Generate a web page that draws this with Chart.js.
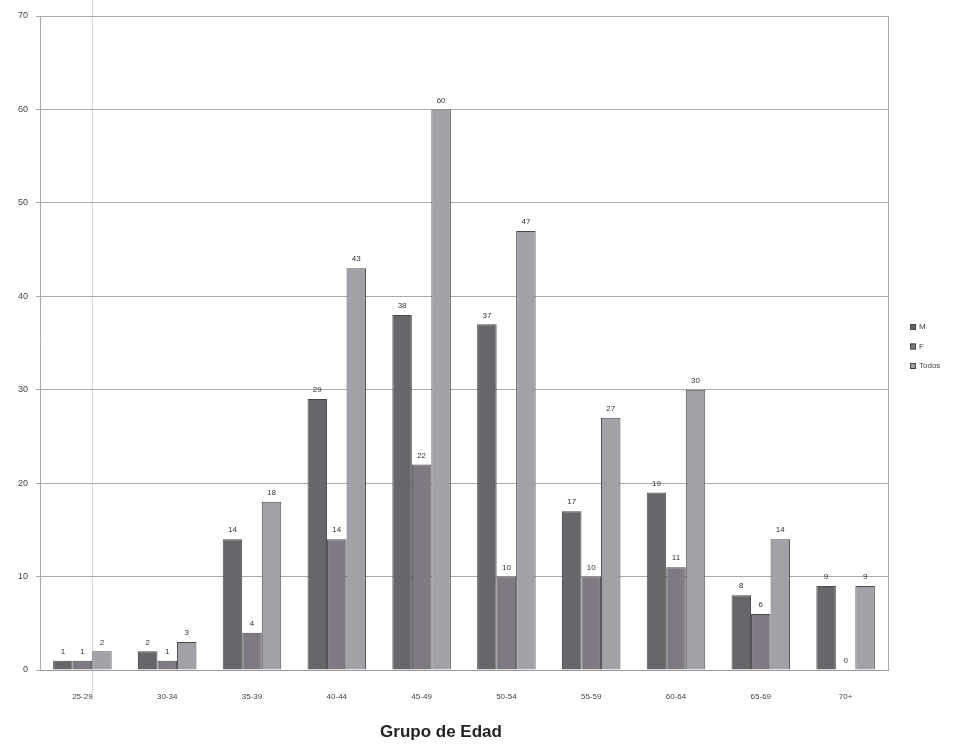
<!DOCTYPE html>
<html>
<head>
<meta charset="utf-8">
<script src="https://cdn.jsdelivr.net/npm/chart.js@4.4.1/dist/chart.umd.min.js"></script>
<style>
  body { margin: 0; background: #fff; }
  #wrap { width: 959px; height: 744px; position: relative; }
</style>
</head>
<body>
<div id="wrap"><canvas id="edadChart" width="959" height="744"></canvas></div>
<script>
// Data
const grupos = ['25-29', '30-34', '35-39', '40-44', '45-49', '50-54', '55-59', '60-64', '65-69', '70+'];
const valoresM = [1, 2, 14, 29, 38, 37, 17, 19, 8, 9];
const valoresF = [1, 1, 4, 14, 22, 10, 10, 11, 6, 0];
const valoresTodos = [2, 3, 18, 43, 60, 47, 27, 30, 14, 9];
const nombresSeries = ['M', 'F', 'Todos'];
const ticksY = [0, 10, 20, 30, 40, 50, 60, 70];
const tituloX = 'Grupo de Edad';

const colores = ['#67666a', '#7f7983', '#a3a0a8'];
const fuente = '"Liberation Sans", Arial, sans-serif';

// labels above each bar
const etiquetasPlugin = {
  id: 'etiquetas',
  afterDatasetsDraw(chart) {
    const ctx = chart.ctx;
    ctx.save();
    ctx.font = '8px ' + fuente;
    ctx.fillStyle = '#333';
    ctx.textAlign = 'center';
    ctx.textBaseline = 'bottom';
    chart.data.datasets.forEach((ds, i) => {
      chart.getDatasetMeta(i).data.forEach((bar, j) => {
        ctx.fillText(String(ds.data[j]), bar.x, bar.y - 5);
      });
    });
    ctx.restore();
  }
};

// plot border, scan line, axis title and legend at the right
const marcoPlugin = {
  id: 'marco',
  afterDraw(chart) {
    const ctx = chart.ctx;
    const a = chart.chartArea;
    ctx.save();
    ctx.strokeStyle = '#aaa';
    ctx.lineWidth = 1;
    ctx.beginPath();
    ctx.moveTo(Math.round(a.right) + 0.5, a.top);
    ctx.lineTo(Math.round(a.right) + 0.5, a.bottom);
    ctx.stroke();

    ctx.strokeStyle = 'rgba(180,180,180,0.5)';
    ctx.beginPath();
    ctx.moveTo(92.5, 0);
    ctx.lineTo(92.5, 700);
    ctx.stroke();

    ctx.font = 'bold 17px ' + fuente;
    ctx.fillStyle = '#222';
    ctx.textAlign = 'center';
    ctx.textBaseline = 'middle';
    ctx.fillText(tituloX, 441, 732);

    ctx.font = '8px ' + fuente;
    ctx.textAlign = 'left';
    nombresSeries.forEach((n, i) => {
      const y = 327 + i * 19.5;
      ctx.fillStyle = colores[i];
      ctx.fillRect(910, y - 3, 6, 6);
      ctx.strokeStyle = '#444';
      ctx.strokeRect(910.5, y - 2.5, 5, 5);
      ctx.fillStyle = '#444';
      ctx.fillText(n, 919, y);
    });
    ctx.restore();
  }
};

const ctx = document.getElementById('edadChart').getContext('2d');
const edadChart = new Chart(ctx, {
  type: 'bar',
  data: {
    labels: grupos,
    datasets: [valoresM, valoresF, valoresTodos].map((d, i) => ({
      label: nombresSeries[i],
      data: d,
      backgroundColor: colores[i],
      borderColor: '#4a4a4a',
      borderWidth: 1,
      categoryPercentage: 0.69,
      barPercentage: 1
    }))
  },
  options: {
    responsive: false,
    animation: false,
    layout: { padding: { left: 0, right: 71, top: 16, bottom: 0 } },
    plugins: {
      legend: { display: false },
      tooltip: { enabled: false }
    },
    scales: {
      x: {
        grid: { display: false },
        border: { display: true, color: '#999' },
        ticks: {
          color: '#444',
          font: { size: 8, family: fuente },
          padding: 14,
          maxRotation: 0
        },
        afterFit(scale) { scale.height = 74; }
      },
      y: {
        min: 0,
        max: 70,
        afterBuildTicks(scale) { scale.ticks = ticksY.map(v => ({ value: v })); },
        grid: { color: '#aaa', tickLength: 4 },
        border: { display: true, color: '#aaa' },
        ticks: {
          color: '#444',
          font: { size: 9, family: fuente },
          padding: 8
        },
        afterFit(scale) { scale.width = 40; }
      }
    }
  },
  plugins: [etiquetasPlugin, marcoPlugin]
});
</script>
</body>
</html>
